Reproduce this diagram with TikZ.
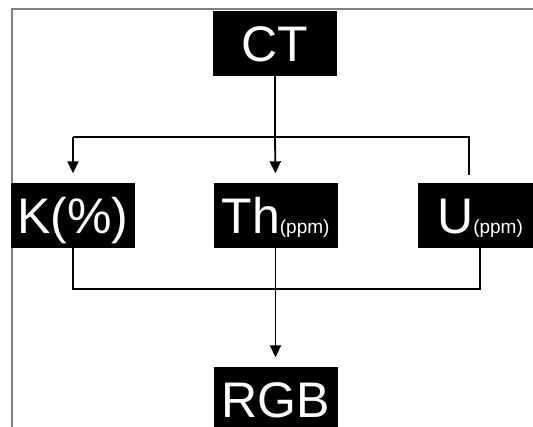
\documentclass[tikz,border=0pt]{standalone}
\usepackage{fontspec}
\setmainfont{Liberation Sans}
\usetikzlibrary{arrows.meta}
\colorlet{frameG}{black!50}
\tikzstyle{block}=[fill=black, text=white, inner sep=0pt, minimum width=124pt, minimum height=65pt, text height=36pt, text depth=0pt, font=\fontsize{50}{50}\selectfont]
\tikzstyle{link}=[line width=1.8pt]
\tikzstyle{feed}=[link, -{Triangle[length=12pt, width=11pt]}, shorten >=9.5pt]
\newcommand{\ppmunit}{{\fontsize{19}{19}\selectfont(ppm)}}

\begin{document}
\begin{tikzpicture}[x=1pt, y=-1pt]
	\useasboundingbox (0,0) rectangle (533,427);

	% outer frame, only top and left edge fall inside
	\draw[frameG, line width=2pt] (12,440) -- (12,9.5) -- (545,9.5);

	% source, the three channels, and the composite
	\node[block] (ct) at (275,43.5) {CT};
	\node[block] (k) at (73,215.5) {K(\%)};
	\node[block] (th) at (275.5,215.5) {Th\ppmunit};
	\node[block] (u) at (480,215.5) {U\ppmunit};
	\node[block] (rgb) at (275.5,399.5) {RGB};

	\coordinate (split) at (275,137);
	\coordinate (uend) at (469,175);
	\coordinate (merge) at (275.5,289);

	% split into channels
	\draw[link] (ct) -- (split);
	\draw[link] (uend) |- (split -| k.north);
	\draw[feed] (split -| k.north) -- (k.north);
	\draw[feed] (split) -- (th.north);

	% merge back into RGB
	\draw[link] (k.south) |- (merge -| u.south) -- (u.south);
	\draw[feed] (th.south) -- (rgb.north);
\end{tikzpicture}
\end{document}
